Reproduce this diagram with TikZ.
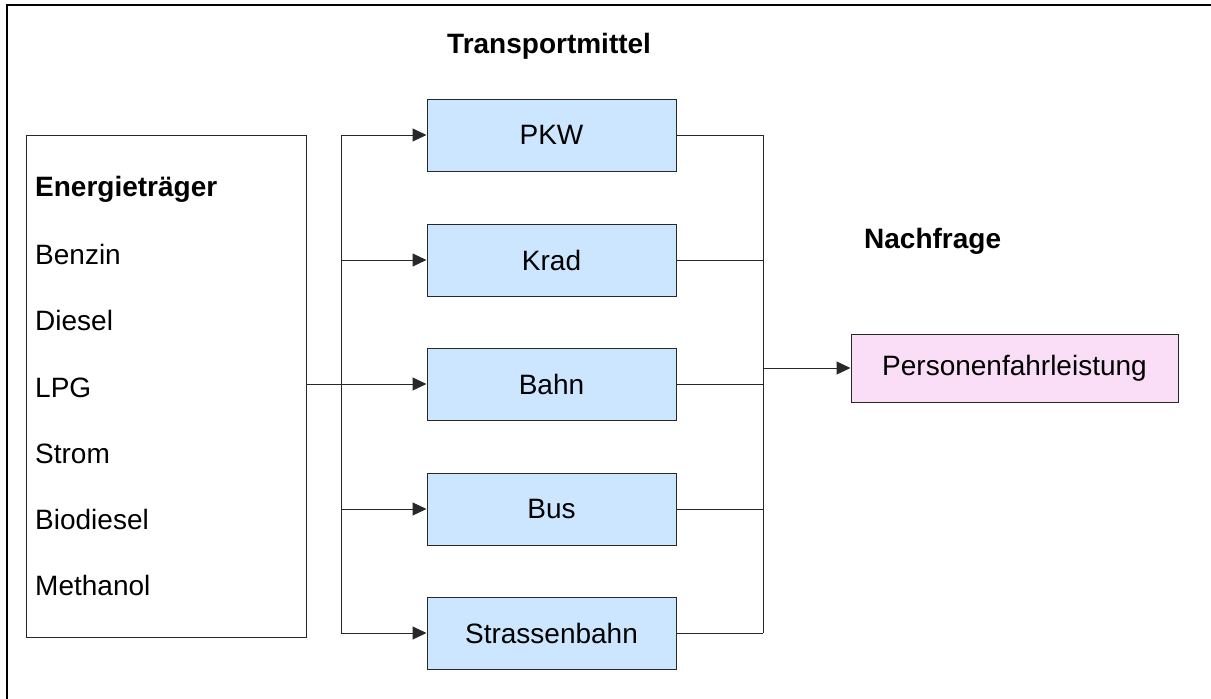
\documentclass[tikz,border=0pt]{standalone}
\usepackage{fontspec}
\setmainfont{Liberation Sans}
\usetikzlibrary{arrows.meta}
\definecolor{boxblue}{RGB}{204,230,255}
\definecolor{boxpink}{RGB}{250,221,246}
\definecolor{linegray}{RGB}{40,40,40}
\begin{document}
\begin{tikzpicture}[x=1pt,y=-1pt,
  every node/.style={font=\fontsize{28}{32}\selectfont},
  tbox/.style={draw=linegray,line width=1pt,fill=boxblue,minimum width=249pt,minimum height=72pt,inner sep=0pt},
  nbox/.style={draw=linegray,line width=1pt,fill=boxpink,minimum width=327pt,minimum height=68pt,inner sep=0pt},
  lbl/.style={anchor=base west,inner sep=0pt},
  conn/.style={draw=linegray,line width=1pt},
  arr/.style={conn,-{Triangle[length=14pt,width=13pt]}},
  frame/.style={draw=black,line width=2pt}]
\useasboundingbox (0,0) rectangle (1211,699);
% frame
\coordinate (fbl) at (7,699);
\coordinate (ftl) at (7,5);
\coordinate (ftr) at (1211,5);
\draw[frame] (fbl) -- (ftl) -- (ftr);
% titles
\node[lbl,font=\fontsize{28}{32}\selectfont\bfseries] (tt) at (447,53) {Transportmittel};
\node[lbl,font=\fontsize{28}{32}\selectfont\bfseries] (tn) at (864,248) {Nachfrage};
% source box
\node[draw=linegray,line width=1pt,minimum width=280pt,minimum height=502pt,inner sep=0pt] (src) at (166,386) {};
\node[lbl,font=\fontsize{28}{32}\selectfont\bfseries] (e0) at (35,196) {Energieträger};
\node[lbl] (e1) at (35,264) {Benzin};
\node[lbl] (e2) at (35,330) {Diesel};
\node[lbl] (e3) at (35,397) {LPG};
\node[lbl] (e4) at (35,463) {Strom};
\node[lbl] (e5) at (35,529) {Biodiesel};
\node[lbl] (e6) at (35,595) {Methanol};
% transport boxes
\node[tbox] (pkw) at (551.5,135) {PKW};
\node[tbox] (krad) at (551.5,260) {Krad};
\node[tbox] (bahn) at (551.5,384) {Bahn};
\node[tbox] (bus) at (551.5,509) {Bus};
\node[tbox] (sb) at (551.5,633) {Strassenbahn};
% demand box
\node[nbox] (pf) at (1014.5,368) {Personenfahrleistung};
% left branching
\coordinate (bl) at (341,384);
\draw[conn] (src.east |- bl) -- (bl);
\draw[conn] (bl |- pkw) -- (bl |- sb);
\foreach \n in {pkw,krad,bahn,bus,sb}{
  \draw[arr] (bl |- \n) -- (\n.west);
}
% right merging
\coordinate (br) at (763,368);
\foreach \n in {pkw,krad,bahn,bus,sb}{
  \draw[conn] (\n.east) -- (br |- \n);
}
\draw[conn] (br |- pkw) -- (br |- sb);
\draw[arr] (br) -- (pf.west);
\end{tikzpicture}
\end{document}
